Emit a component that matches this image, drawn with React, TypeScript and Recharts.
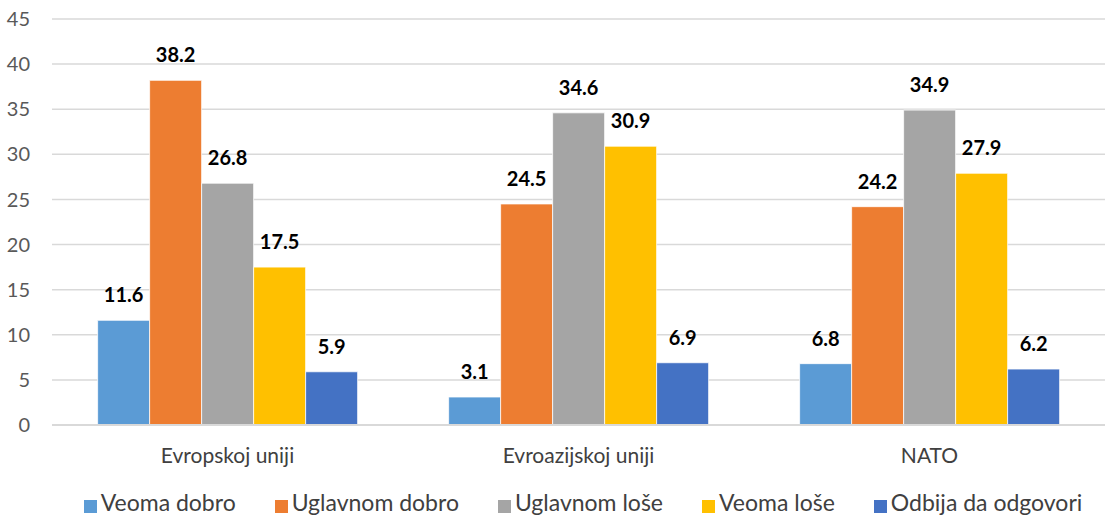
import {
  BarChart,
  Bar,
  XAxis,
  YAxis,
  CartesianGrid,
  Legend,
  LabelList,
} from "recharts";

const categories = ["Evropskoj uniji", "Evroazijskoj uniji", "NATO"];

const veomaDobro = [11.6, 3.1, 6.8];
const uglavnomDobro = [38.2, 24.5, 24.2];
const uglavnomLose = [26.8, 34.6, 34.9];
const veomaLose = [17.5, 30.9, 27.9];
const odbija = [5.9, 6.9, 6.2];

const yTicks = [0, 5, 10, 15, 20, 25, 30, 35, 40, 45];

const series = [
  { key: "veomaDobro", name: "Veoma dobro", color: "#5B9BD5" },
  { key: "uglavnomDobro", name: "Uglavnom dobro", color: "#ED7D31" },
  { key: "uglavnomLose", name: "Uglavnom loše", color: "#A5A5A5" },
  { key: "veomaLose", name: "Veoma loše", color: "#FFC000" },
  { key: "odbija", name: "Odbija da odgovori", color: "#4472C4" },
];

const data = categories.map((name, i) => ({
  name,
  veomaDobro: veomaDobro[i],
  uglavnomDobro: uglavnomDobro[i],
  uglavnomLose: uglavnomLose[i],
  veomaLose: veomaLose[i],
  odbija: odbija[i],
}));

const FONT = "Lato, 'Liberation Sans', sans-serif";

// keep legend in series order instead of alphabetical
const legendOrder = (item: any) =>
  series.findIndex((s) => s.name === item.value);

const App = () => {
  return (
    <div
      style={{
        position: "absolute",
        left: 0,
        top: 0,
        width: 1105,
        height: 518,
        overflow: "hidden",
        background: "#fff",
        fontFamily: FONT,
      }}
    >
      <BarChart
        width={1105}
        height={518}
        data={data}
        margin={{ top: 19, right: 0, left: 0, bottom: 0 }}
        barCategoryGap="13%"
        barGap={0}
      >
        <CartesianGrid
          vertical={false}
          stroke="#D9D9D9"
          strokeWidth={1.5}
        />
        <XAxis
          dataKey="name"
          axisLine={{ stroke: "#D9D9D9", strokeWidth: 2 }}
          tickLine={false}
          tickMargin={17}
          height={60}
          tick={{ fill: "#404040", fontSize: 21, fontFamily: FONT }}
        />
        <YAxis
          domain={[0, 45]}
          ticks={yTicks}
          width={52}
          axisLine={false}
          tickLine={false}
          tickSize={0}
          tickMargin={22}
          tick={{ fill: "#595959", fontSize: 20, fontFamily: FONT }}
        />
        <Legend
          verticalAlign="bottom"
          iconType="square"
          iconSize={13}
          itemSorter={legendOrder}
          wrapperStyle={{
            lineHeight: "26px",
            paddingTop: 4,
            left: 50,
          }}
          formatter={(value) => (
            <span
              style={{
                color: "#404040",
                fontSize: 23,
                fontFamily: FONT,
                marginRight: 29,
              }}
            >
              {value}
            </span>
          )}
        />
        {series.map((s) => (
          <Bar
            key={s.key}
            dataKey={s.key}
            name={s.name}
            fill={s.color}
            stroke="#fff"
            strokeWidth={0.75}
            isAnimationActive={false}
          >
            <LabelList
              dataKey={s.key}
              position="top"
              offset={18}
              fill="#000"
              fontSize={20}
              fontWeight="bold"
              fontFamily={FONT}
            />
          </Bar>
        ))}
      </BarChart>
    </div>
  );
};

export default App;
